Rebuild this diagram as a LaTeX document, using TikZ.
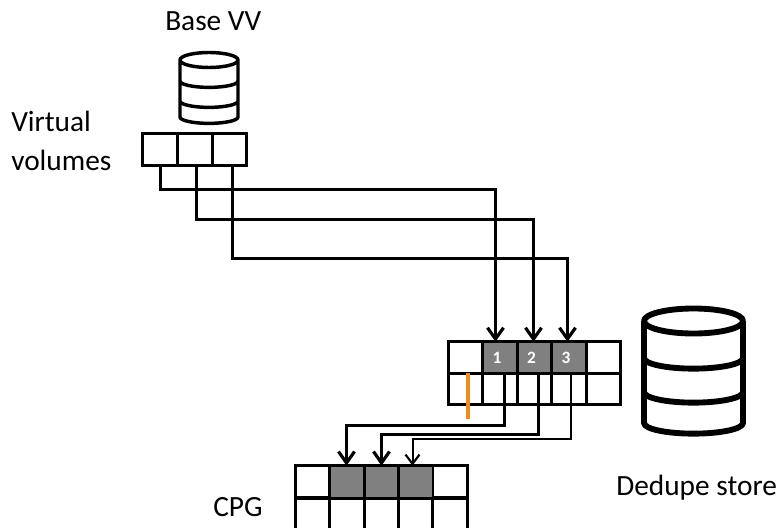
\documentclass[tikz,border=0pt]{standalone}
\usepackage{fontspec}
\setmainfont{Carlito}
\usetikzlibrary{arrows.meta}
\definecolor{blockgray}{HTML}{808080}
\definecolor{markorange}{HTML}{F08A1C}
\tikzset{
	cell/.style={draw, minimum width=25.9pt, minimum height=#1, inner sep=0pt, outer sep=0pt, line width=2.2pt},
	cell/.default=24.5pt,
	used/.style={fill=blockgray},
	link/.style={line width=2.25pt, -{Straight Barb[length=8.5pt,width=12pt,line width=2.4pt]}},
	thinlink/.style={line width=1.5pt, -{Straight Barb[length=7pt,width=10.5pt,line width=1.6pt]}},
	caption/.style={inner sep=0pt, anchor=base west, font=\fontsize{22}{26}\selectfont},
	number/.style={text=white, font=\bfseries\fontsize{13}{14}\selectfont}
}
\begin{document}
\begin{tikzpicture}[x=0.75pt, y=-0.75pt]
\useasboundingbox (0,0) rectangle (778,528);

% Cilindros
	\foreach \cx/\rx/\top/\ry/\bandA/\bandB/\bandC/\wid in {209/29/60/7.5/81/101/117/2.6pt, 693.5/49.5/321/12.5/358/392/423/4.4pt}
		\draw[line width=\wid, line join=round] (\cx-\rx,\top) -- (\cx-\rx,\bandC) arc (180:0:\rx*1 and \ry*0.85) -- (\cx+\rx,\top)
			(\cx,\top) ellipse ({\rx*1} and {\ry*1})
			(\cx-\rx,\bandA) arc (180:0:\rx*1 and \ry*0.85)
			(\cx-\rx,\bandB) arc (180:0:\rx*1 and \ry*0.85);

% Volumen virtual
	\foreach \i in {1, 2, 3}
		\node[cell] (vv\i) at ({160+34.7*(\i-1)},149.5) {};

% Dedupe
	\foreach \i in {0, 1, ..., 4} {
		\node[cell=23.5pt] (top\i) at ({465.5+34.5*\i},357.5) {};
		\node[cell=23.5pt] (low\i) at ({465.5+34.5*\i},389) {};
	}
	\foreach \i in {1, 2, 3}
		\node[cell=23.5pt, used, number] (top\i) at ({465.5+34.5*\i},357.5) {\i\kern 4.5pt};

% CPG
\begin{scope}
	\clip (0,0) rectangle (778,528);
	\foreach \i in {0, 1, ..., 4} {
		\node[cell] (cpgtop\i) at ({312.5+34.4*\i},482) {};
		\node[cell=26pt] (cpglow\i) at ({312.5+34.4*\i},515) {};
	}
	\foreach \i in {1, 2, 3}
		\node[cell, used] (cpgtop\i) at ({312.5+34.4*\i},482) {};
\end{scope}

	\draw[line width=2.6pt, markorange] (468,373) coordinate (markA) -- (468,419) coordinate (markB);

% Enlaces
	\draw[link] ([xshift=0.375pt]vv1.south) -- ++(0,23.67) -| ([xshift=-3.375pt]top1.north);
	\draw[link] ([xshift=1.35pt]vv2.south) -- ++(0,53.67) -| ([xshift=-0.75pt]top2.north);
	\draw[link] ([xshift=2.33pt]vv3.south) -- ++(0,92.67) -| ([xshift=-1.125pt]top3.north);

	\draw[link] ([xshift=3.375pt]low1.north) -- ++(0,52.17) -| ([xshift=-0.3pt]cpgtop1.north);
	\draw[link] ([xshift=3pt]low2.north) -- ++(0,61.17) -| ([xshift=0.15pt]cpgtop2.north);
	\draw[thinlink] ([xshift=1.125pt]low3.north) -- ++(0,65.17) -| ([xshift=-2.4pt]cpgtop3.north);

% Textos
	\node[caption] (basevv) at (165,31) {Base VV};
	\node[caption] (virtual) at (11,131) {Virtual};
	\node[caption] (volumes) at (11,170) {volumes};
	\node[caption] (dedupe) at (616,495) {Dedupe store};
	\node[caption] (cpg) at (213,516) {CPG};
\end{tikzpicture}
\end{document}
